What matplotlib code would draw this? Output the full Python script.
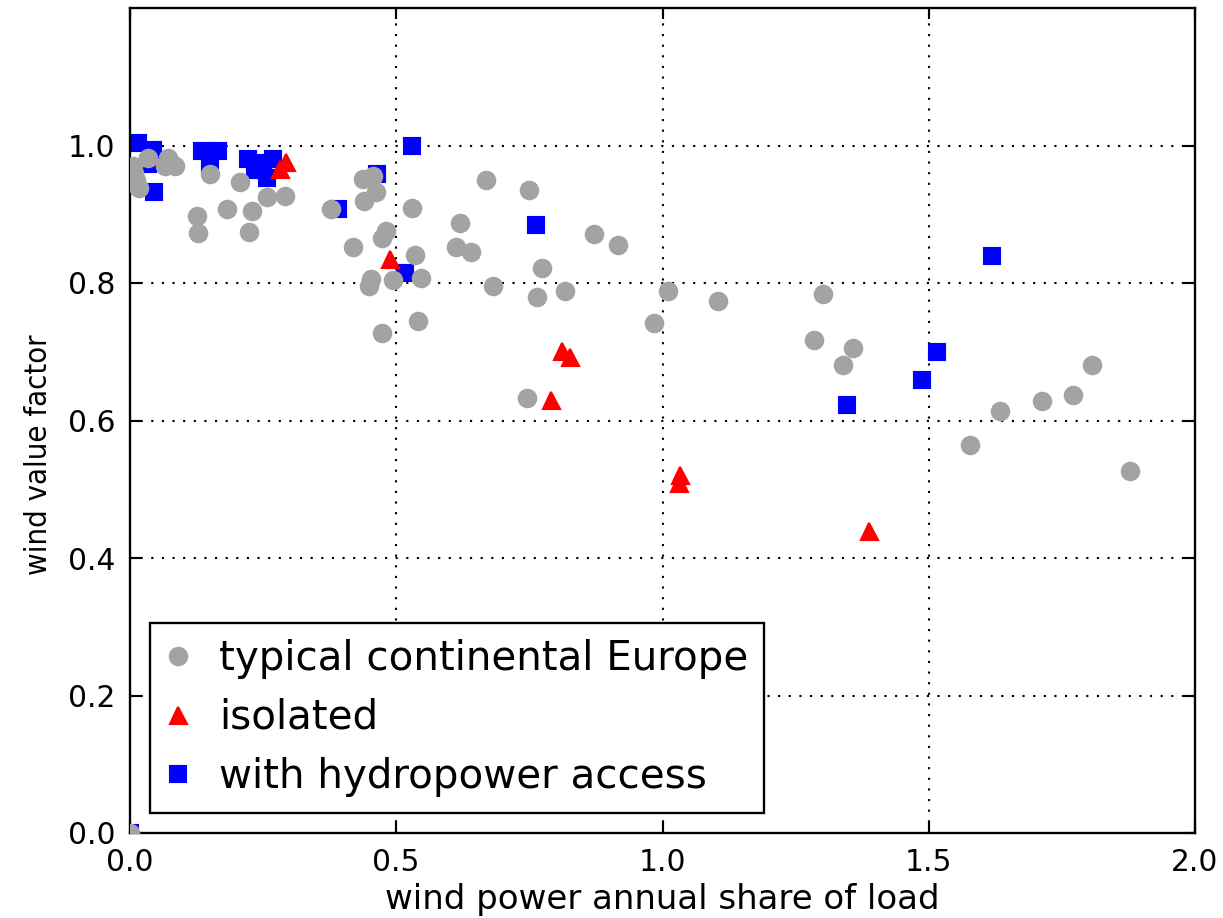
import matplotlib
matplotlib.use("Agg")
import matplotlib.pyplot as plt

# typical continental Europe
europe_x = [0.0, 0.005, 0.011, 0.017, 0.005, 0.008, 0.033, 0.072, 0.077, 0.085,
            0.065, 0.150, 0.207, 0.125, 0.128, 0.182, 0.230, 0.224, 0.257, 0.291,
            0.438, 0.457, 0.462, 0.439, 0.378, 0.530, 0.480, 0.473, 0.418, 0.536,
            0.452, 0.449, 0.494, 0.546, 0.540, 0.474, 0.668, 0.749, 0.620, 0.871,
            0.916, 0.613, 0.640, 0.774, 0.682, 0.765, 0.817, 1.011, 0.984, 0.746,
            1.104, 1.301, 1.284, 1.358, 1.339, 1.806, 1.770, 1.713, 1.633, 1.577,
            1.877]
europe_y = [0.0, 0.970, 0.950, 0.938, 0.945, 0.960, 0.982, 0.982, 0.975, 0.970,
            0.970, 0.958, 0.947, 0.898, 0.873, 0.907, 0.905, 0.874, 0.925, 0.926,
            0.952, 0.955, 0.932, 0.920, 0.907, 0.909, 0.875, 0.866, 0.852, 0.841,
            0.806, 0.795, 0.804, 0.807, 0.745, 0.727, 0.950, 0.935, 0.887, 0.872,
            0.856, 0.852, 0.845, 0.822, 0.795, 0.780, 0.788, 0.789, 0.742, 0.633,
            0.774, 0.784, 0.717, 0.705, 0.680, 0.680, 0.637, 0.629, 0.614, 0.564,
            0.527]

# isolated
isolated_x = [0.282, 0.293, 0.488, 0.811, 0.826, 0.791, 1.033, 1.031, 1.387]
isolated_y = [0.966, 0.976, 0.835, 0.701, 0.693, 0.630, 0.521, 0.509, 0.439]

# with hydropower access
hydro_x = [0.0, 0.0145, 0.044, 0.034, 0.046, 0.135, 0.166, 0.150, 0.222, 0.269,
           0.257, 0.235, 0.250, 0.391, 0.463, 0.516, 0.530, 0.762, 1.346, 1.488,
           1.516, 1.619]
hydro_y = [0.0, 1.004, 0.994, 0.973, 0.933, 0.992, 0.992, 0.975, 0.980, 0.980,
           0.953, 0.965, 0.975, 0.907, 0.958, 0.815, 1.000, 0.884, 0.622, 0.659,
           0.699, 0.839]

fig = plt.figure(figsize=(1223 / 153, 918 / 153), dpi=153)
ax = fig.add_axes([130 / 1223, 1 - 833 / 918, 1065 / 1223, 825 / 918])

gray = "#a3a3a3"
ax.plot(europe_x, europe_y, "o", color=gray, mec=gray, ms=8.2, zorder=3,
        label="typical continental Europe")
ax.plot(isolated_x, isolated_y, "^", color="r", mec="r", ms=8, zorder=4,
        label="isolated")
ax.plot(hydro_x, hydro_y, "s", color="b", mec="b", ms=7.2, zorder=2,
        label="with hydropower access")

ax.set_xlim(0, 2.0)
ax.set_ylim(0, 1.2)
ax.set_xticks([0.0, 0.5, 1.0, 1.5, 2.0])
ax.set_yticks([0.0, 0.2, 0.4, 0.6, 0.8, 1.0])
ax.tick_params(direction="in", top=True, right=True, length=5, width=1,
               labelsize=14, pad=7)
for s in ax.spines.values():
    s.set_linewidth(1.1)
ax.grid(True, color="k", linestyle=(0, (1, 4)), linewidth=1)
ax.set_axisbelow(True)

ax.set_xlabel("wind power annual share of load", fontsize=16, labelpad=3)
ax.set_ylabel("wind value factor", fontsize=14.5, fontstretch="condensed")
ax.yaxis.set_label_coords(-0.072, 0.458)

leg = ax.legend(loc="lower left", numpoints=1, fontsize=19, fancybox=False,
                framealpha=1, edgecolor="k", borderaxespad=0.5,
                handlelength=0.6, handletextpad=0.7, labelspacing=0.47,
                borderpad=0.4)
leg.get_frame().set_linewidth(1.1)

fig.savefig("out.png", dpi=153)
